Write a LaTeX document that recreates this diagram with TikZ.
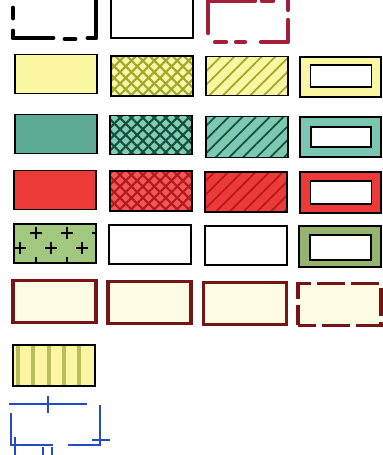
\documentclass[tikz,border=0pt]{standalone}
\usepackage{xcolor}
\usepackage{tikz}
\usetikzlibrary{patterns.meta}
\definecolor{swyellow}{RGB}{250,246,162}
\definecolor{swolive}{RGB}{160,168,40}
\definecolor{swteal}{RGB}{92,170,148}
\definecolor{swtealpale}{RGB}{128,206,186}
\definecolor{swtealdark}{RGB}{22,78,54}
\definecolor{swred}{RGB}{236,58,56}
\definecolor{swreddark}{RGB}{180,24,28}
\definecolor{swgreen}{RGB}{162,200,128}
\definecolor{swgreenframe}{RGB}{150,180,112}
\definecolor{wallred}{RGB}{118,20,22}
\definecolor{wallcream}{RGB}{255,252,228}
\definecolor{dashred}{RGB}{165,30,55}
\definecolor{wireblue}{RGB}{35,75,195}

\begin{document}
\begin{tikzpicture}[
    x=0.02cm, y=-0.02cm,
    swatch/.style={rectangle, draw=black, line width=1.1pt, inner sep=0pt,
        minimum width=1.64cm, minimum height=0.78cm},
    inner/.style={rectangle, draw=black, line width=1.1pt, inner sep=0pt, fill=white,
        minimum width=1.22cm, minimum height=0.44cm},
    wall/.style={rectangle, draw=wallred, line width=2pt, inner sep=0pt, fill=wallcream,
        minimum width=1.66cm, minimum height=0.84cm},
    xhatch/.style={preaction={pattern={Lines[angle=45,distance=4.6pt,line width=1.2pt]}, pattern color=#1},
        preaction={pattern={Lines[angle=-45,distance=4.6pt,line width=1.2pt]}, pattern color=#1}},
    hatch/.style={preaction={pattern={Lines[angle=45,distance=5.5pt,line width=1pt]}, pattern color=#1}},
    bolddash/.style={line width=2.8pt, line cap=round, line join=round},
    plusmark/.style={draw=black, line width=1.4pt},
    stripe/.style={draw=swolive!75, line width=2.2pt},
    wire/.style={draw=wireblue, line width=1.4pt}
]
\useasboundingbox (0,0) rectangle (382,455);

% row 0: outlines
\draw[bolddash, black] (13,-2) -- (27,-2);
\draw[bolddash, black] (13,8) -- (13,18);
\draw[bolddash, black] (13,31) -- (13,38) -- (53,38);
\draw[bolddash, black] (65,39) -- (75,39);
\draw[bolddash, black] (88,38) -- (96,38) -- (96,-4);
\node[swatch, minimum height=0.84cm] (blanktop) at (152,17) {};
\draw[bolddash, dashred, line width=2.5pt] (208,33) -- (208,1) -- (255,1);
\draw[bolddash, dashred, line width=2.5pt] (262,1) -- (273,1);
\draw[bolddash, dashred, line width=2.5pt] (288,-2) -- (288,10);
\draw[bolddash, dashred, line width=2.5pt] (215,42) -- (226,42);
\draw[bolddash, dashred, line width=2.5pt] (236,42) -- (245,42);
\draw[bolddash, dashred, line width=2.5pt] (261,42) -- (288,42) -- (288,20);

% row 1: yellow
\node[swatch, fill=swyellow] (yelsolid) at (56,74) {};
\node[swatch, minimum height=0.8cm, preaction={fill=swyellow!90!white}, xhatch=swolive] (yelcross) at (152,76) {};
\node[swatch, minimum height=0.78cm, preaction={fill=swyellow}, hatch=swolive] (yelhatch) at (247,76) {};
\node[swatch, fill=swyellow, minimum width=1.62cm, minimum height=0.8cm] (yelframe) at (340.5,77) {};
\node[inner] (yelinner) at (341,76) {};

% row 2: teal
\node[swatch, fill=swteal] (tealsolid) at (56,134) {};
\node[swatch, preaction={fill=swtealpale}, xhatch=swtealdark] (tealcross) at (151,135) {};
\node[swatch, minimum height=0.82cm, preaction={fill=swtealpale!85!swteal}, hatch=swtealdark] (tealhatch) at (247,137) {};
\node[swatch, fill=swtealpale!80!swteal, minimum width=1.62cm, minimum height=0.8cm] (tealframe) at (340.5,137) {};
\node[inner, minimum width=1.2cm, minimum height=0.4cm] (tealinner) at (341,137) {};

% row 3: red
\node[swatch, fill=swred] (redsolid) at (55,190) {};
\node[swatch, minimum height=0.8cm, preaction={fill=swred!85!white}, xhatch=swreddark] (redcross) at (151,191) {};
\node[swatch, minimum height=0.8cm, preaction={fill=swred}, hatch=swreddark] (redhatch) at (246,192) {};
\node[swatch, fill=swred, minimum width=1.62cm, minimum height=0.82cm] (redframe) at (340.5,192.5) {};
\node[inner, minimum height=0.46cm] (redinner) at (341,192.5) {};

% row 4: green and blanks
\node[swatch, fill=swgreen] (grnplus) at (55,243.5) {};
\begin{scope}
  \clip (grnplus.south west) rectangle (grnplus.north east);
  \foreach \cx/\cy in {20/218,51/218,82/218,36/233,67/233,98/233,
                       20/248,51/248,82/248,36/263,67/263,98/263}
    \draw[plusmark] (\cx-6,\cy) -- (\cx+6,\cy) (\cx,\cy-6) -- (\cx,\cy+6);
\end{scope}
\node[swatch] (blankA) at (150,244.5) {};
\node[swatch] (blankB) at (246,245.5) {};
\node[swatch, fill=swgreenframe, minimum width=1.64cm, minimum height=0.82cm] (grnframe) at (340,246.5) {};
\node[inner, minimum height=0.5cm] (grninner) at (340.5,247.5) {};

% row 5: walls
\node[wall] (wallA) at (54.5,301.5) {};
\node[wall] (wallB) at (149.5,302.5) {};
\node[wall] (wallC) at (245,303.5) {};
\node[wall, dash pattern=on 16pt off 3.5pt, dash phase=6pt] (wallD) at (339.5,304.5) {};

% row 6: stripes
\node[swatch, fill=swyellow, minimum height=0.82cm] (yelstripe) at (54,365.5) {};
\foreach \sx in {18,33,49,64,79}
  \draw[stripe] (\sx,346.2) -- (\sx,384.8);

% row 7: blue lines
\draw[wire] (9,404) -- (87,404);
\draw[wire] (48,396) -- (48,413);
\draw[wire] (11,413) -- (11,445) -- (53,445);
\draw[wire] (15,437) -- (15,456);
\draw[wire] (43,447) -- (43,456);
\draw[wire] (52,447) -- (52,456);
\draw[wire] (100,405) -- (100,445) -- (68,445);
\draw[wire] (92,440) -- (110,440);
\end{tikzpicture}
\end{document}
